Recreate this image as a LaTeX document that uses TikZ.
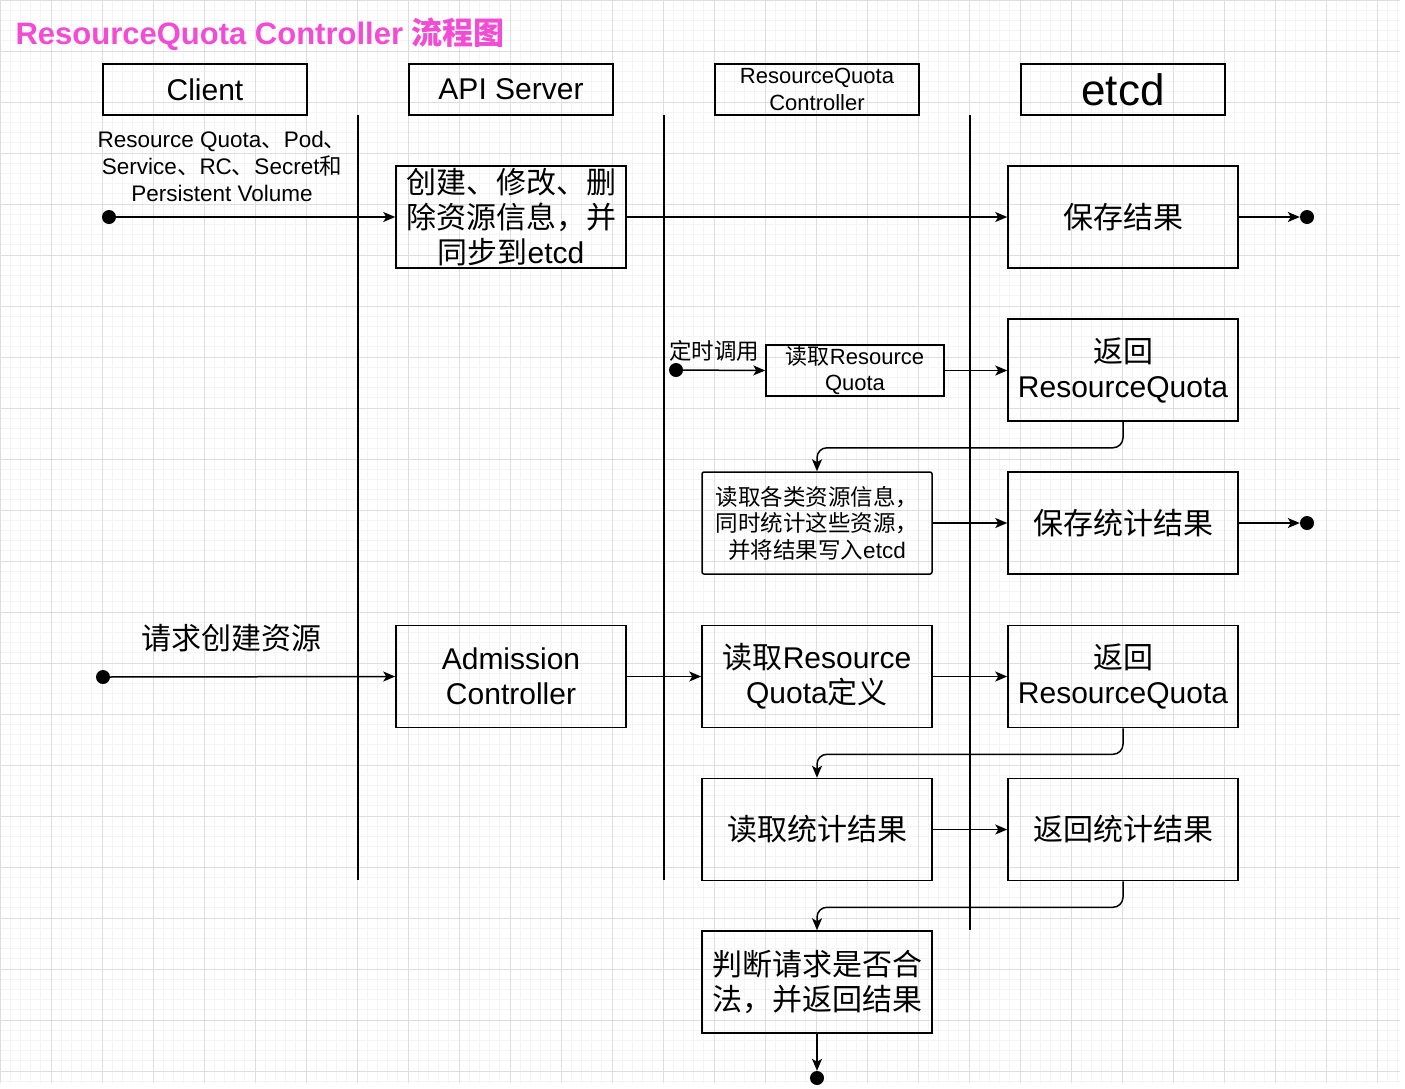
\documentclass[tikz,border=0pt]{standalone}
\usepackage{fontspec}
\setmainfont{Liberation Sans}
\newfontfamily\zhfont{Noto Sans CJK SC}
\newcommand{\zh}[1]{{\zhfont #1}}
\usepackage{tikz}
\usetikzlibrary{arrows.meta,positioning}
\usepackage{xcolor}
\definecolor{rqpink}{RGB}{242,75,212}
\definecolor{rqgridmajor}{RGB}{222,222,222}
\definecolor{rqgridminor}{RGB}{244,244,244}
\tikzstyle{arrow} = [line width=1.5pt,-{Stealth[length=12pt,width=10pt,inset=3pt]}]
\tikzstyle{lane} = [line width=1.5pt]
\tikzstyle{header} = [rectangle, draw, line width=1.5pt, minimum width=204pt, minimum height=51pt, align=center, font=\fontsize{30}{34}\selectfont]
\tikzstyle{stepbox} = [rectangle, draw, line width=1.5pt, minimum width=230pt, minimum height=102pt, align=center, inner sep=2pt, font=\fontsize{30}{35}\selectfont]
\tikzstyle{smallbox} = [stepbox, font=\fontsize{22.5}{26.5}\selectfont]
\tikzstyle{dot} = [circle, fill=black, inner sep=0pt, minimum size=14pt]
\tikzstyle{label} = [align=center, font=\fontsize{22.5}{27}\selectfont]

\begin{document}
\begin{tikzpicture}[x=1pt, y=-1pt]
\useasboundingbox (0,0) rectangle (1405,1088);
% background grid
\draw[rqgridminor, line width=0.8pt, step=10.2pt] (0,0) grid (1400,1083);
\draw[rqgridmajor, line width=1pt, step=51pt] (0,0) grid (1400,1083);

\node[anchor=west, text=rqpink, font=\fontsize{31}{35}\selectfont\bfseries] (title) at (12,34) {ResourceQuota Controller \zh{流程图}};

% columns
\node[header] (client) at (205,89.5) {Client};
\node[header] (api) at (511,89.5) {API Server};
\node[header, font=\fontsize{22}{27}\selectfont] (rqc) at (817,89.5) {ResourceQuota\\Controller};
\node[header, font=\fontsize{44}{48}\selectfont] (etcd) at (1123,89.5) {etcd};

\coordinate (lane1top) at (358,115);
\coordinate (lane1bot) at (358,880);
\coordinate (lane2top) at (664,115);
\coordinate (lane2bot) at (664,880);
\coordinate (lane3top) at (970,115);
\coordinate (lane3bot) at (970,930);
\draw[lane] (lane1top) -- (lane1bot);
\draw[lane] (lane2top) -- (lane2bot);
\draw[lane] (lane3top) -- (lane3bot);

% create / modify resources
\node[dot] (start1) at (109,217) {};
\node[label] (reslabel) at (222,166) {Resource Quota\zh{、}Pod\zh{、}\\Service\zh{、}RC\zh{、}Secret\zh{和}\\Persistent Volume};
\node[stepbox] (sync) at (511,217) {\zh{创建、修改、删}\\\zh{除资源信息，并}\\\zh{同步到}etcd};
\node[stepbox] (save1) at (1123,217) {\zh{保存结果}};
\node[dot] (end1) at (1307,217) {};
\draw[arrow] (start1) -- (sync.west);
\draw[arrow] (sync.east) -- (save1.west);
\draw[arrow] (save1.east) -- (end1.west);

% periodic sync
\node[dot] (start2) at (676,370) {};
\node[label] (timer) at (714,351) {\zh{定时调用}};
\node[stepbox, font=\fontsize{22}{26}\selectfont, minimum width=178pt, minimum height=51pt, inner sep=0pt] (readrq) at (855,370.5) {\zh{读取}Resource\\Quota};
\node[stepbox] (ret1) at (1123,370) {\zh{返回}\\ResourceQuota};
\node[smallbox, rounded corners=2pt] (count) at (817,523) {\zh{读取各类资源信息，}\\\zh{同时统计这些资源，}\\\zh{并将结果写入}etcd};
\node[stepbox] (save2) at (1123,523) {\zh{保存统计结果}};
\node[dot] (end2) at (1307,523) {};
\draw[arrow] (start2) -- (readrq.west);
\draw[arrow] (readrq.east) -- (readrq.east -| ret1.west);
\draw[arrow, rounded corners=10pt] (ret1.south) -- ++(0,26) -| (count.north);
\draw[arrow] (count.east) -- (save2.west);
\draw[arrow] (save2.east) -- (end2.west);

% admission check
\node[dot] (start3) at (103,677) {};
\node[label, font=\fontsize{30}{35}\selectfont] (reqlabel) at (231,638) {\zh{请求创建资源}};
\node[stepbox] (adm) at (511,676.5) {Admission\\Controller};
\node[stepbox] (readdef) at (817,676.5) {\zh{读取}Resource\\Quota\zh{定义}};
\node[stepbox] (ret2) at (1123,676.5) {\zh{返回}\\ResourceQuota};
\node[stepbox] (readstat) at (817,829.5) {\zh{读取统计结果}};
\node[stepbox] (ret3) at (1123,829.5) {\zh{返回统计结果}};
\node[stepbox] (judge) at (817,982) {\zh{判断请求是否合}\\\zh{法，并返回结果}};
\node[dot] (end3) at (817,1078) {};
\draw[arrow] (start3) -- (adm.west);
\draw[arrow] (adm.east) -- (readdef.west);
\draw[arrow] (readdef.east) -- (ret2.west);
\draw[arrow, rounded corners=10pt] (ret2.south) -- ++(0,26) -| (readstat.north);
\draw[arrow] (readstat.east) -- (ret3.west);
\draw[arrow, rounded corners=10pt] (ret3.south) -- ++(0,26) -| (judge.north);
\draw[arrow] (judge.south) -- (end3.north);
\end{tikzpicture}
\end{document}
